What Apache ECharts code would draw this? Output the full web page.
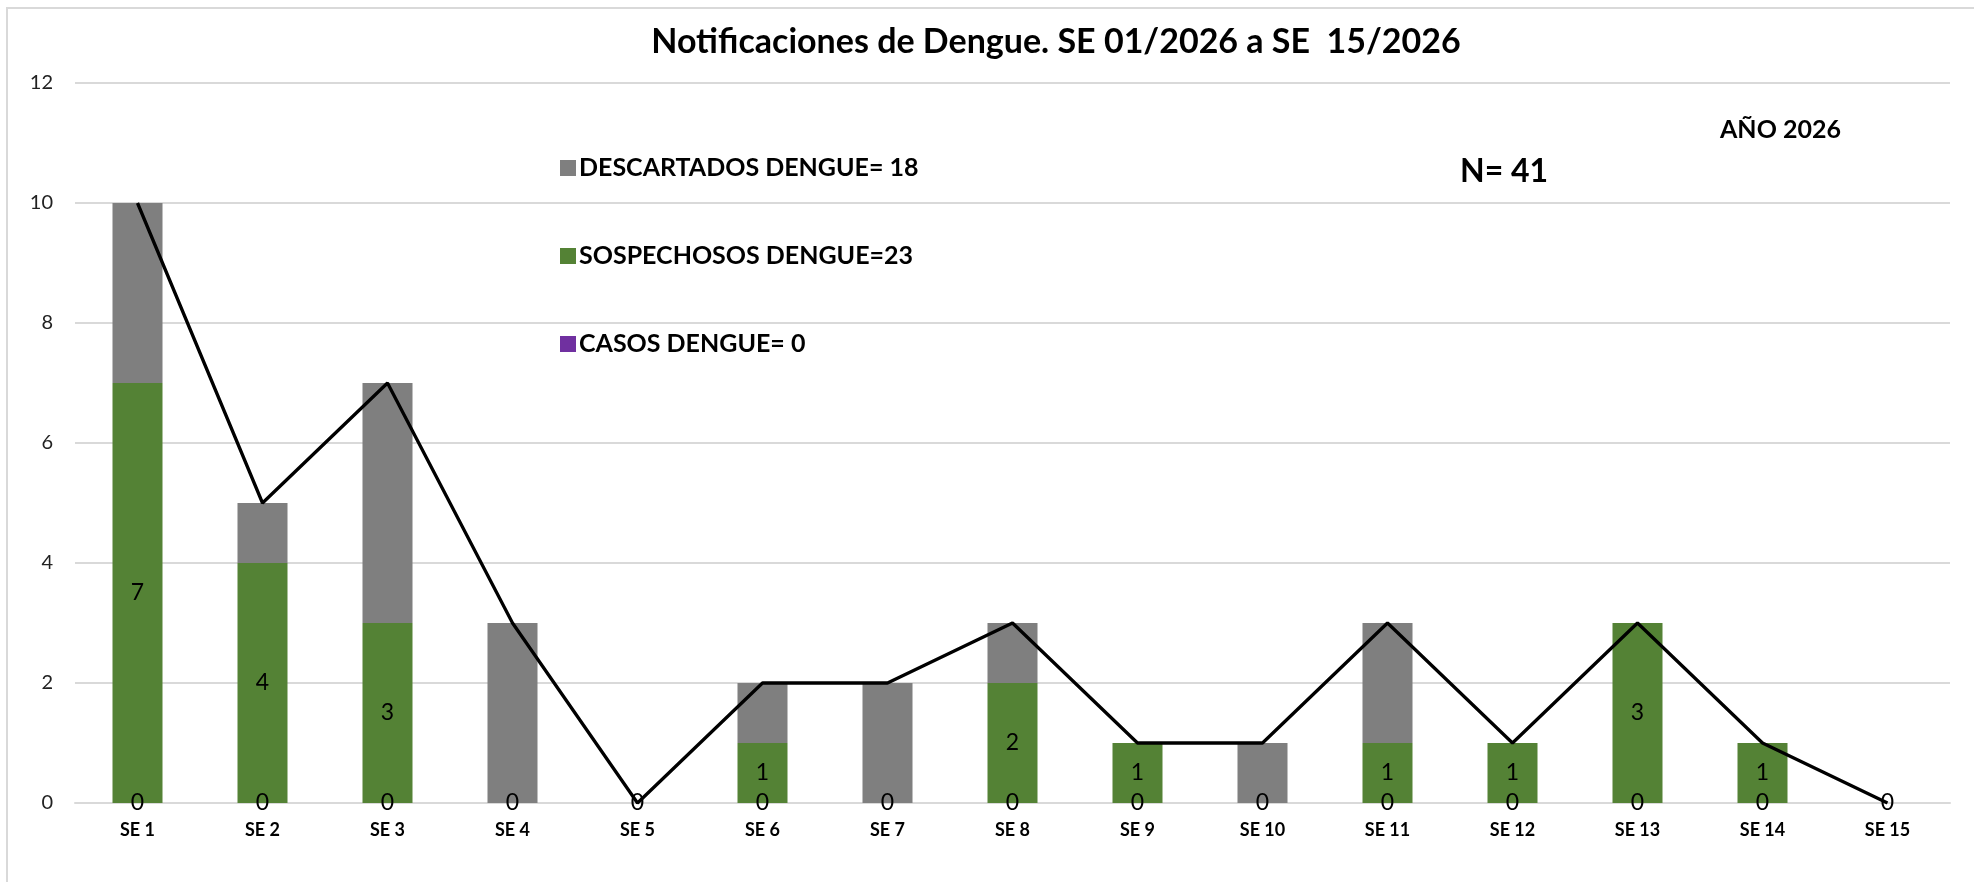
<!DOCTYPE html>
<html>
<head>
<meta charset="utf-8">
<title>Notificaciones de Dengue</title>
<script src="https://cdn.jsdelivr.net/npm/echarts@6/dist/echarts.min.js"></script>
<style>
  html, body { margin: 0; padding: 0; background: #fff; }
  #chart { width: 1974px; height: 882px; }
</style>
</head>
<body>
<div id="chart"></div>
<script>
// semanas epidemiologicas
var semanas = ['SE 1', 'SE 2', 'SE 3', 'SE 4', 'SE 5', 'SE 6', 'SE 7', 'SE 8',
  'SE 9', 'SE 10', 'SE 11', 'SE 12', 'SE 13', 'SE 14', 'SE 15'];
var casos = [0, 0, 0, 0, 0, 0, 0, 0, 0, 0, 0, 0, 0, 0, 0];
var sospechosos = [7, 4, 3, 0, 0, 1, 0, 2, 1, 0, 1, 1, 3, 1, 0];
var descartados = [3, 1, 4, 3, 0, 1, 2, 1, 0, 1, 2, 0, 0, 0, 0];
var totales = [10, 5, 7, 3, 0, 2, 2, 3, 1, 1, 3, 1, 3, 1, 0];
var yTicks = [0, 2, 4, 6, 8, 10, 12];

var fuente = 'Lato, "Open Sans", sans-serif';

var chart = echarts.init(document.getElementById('chart'));

var option = {
  backgroundColor: '#fff',
  animation: false,
  title: {
    text: 'Notificaciones de Dengue. SE 01/2026 a SE  15/2026',
    left: 1051, top: 20, textAlign: 'center',
    textStyle: { fontFamily: fuente, fontWeight: 'bold', fontSize: 34, color: '#000' }
  },
  legend: {
    data: ['DESCARTADOS DENGUE= 18', 'SOSPECHOSOS DENGUE=23', 'CASOS DENGUE= 0'],
    orient: 'vertical',
    left: 555, top: 150,
    itemWidth: 16, itemHeight: 16, itemGap: 62,
    icon: 'rect',
    selectedMode: false,
    textStyle: { fontFamily: fuente, fontWeight: 'bold', fontSize: 25, lineHeight: 26, color: '#000', padding: [0, 0, 0, -2] }
  },
  graphic: [
    { type: 'rect', shape: { x: 7, y: 8, width: 2000, height: 900 },
      style: { fill: 'none', stroke: '#d9d9d9', lineWidth: 2 }, silent: true },
    { type: 'text', left: 1460, top: 156,
      style: { text: 'N= 41', font: 'bold 32px ' + fuente, fill: '#000' } },
    { type: 'text', left: 1720, top: 117,
      style: { text: 'AÑO 2026', font: 'bold 25px ' + fuente, fill: '#000' } }
  ],
  grid: { left: 75, right: 24, top: 83, bottom: 79 },
  xAxis: {
    type: 'category',
    data: semanas,
    axisLine: { lineStyle: { color: '#d9d9d9', width: 2 } },
    axisTick: { show: false },
    axisLabel: { fontFamily: fuente, fontWeight: 'bold', fontSize: 18, color: '#000', margin: 18 }
  },
  yAxis: {
    type: 'value',
    min: yTicks[0], max: yTicks[yTicks.length - 1], interval: 2,
    axisLine: { show: false },
    axisTick: { show: false },
    splitLine: { lineStyle: { color: '#d9d9d9', width: 2 } },
    axisLabel: { fontFamily: fuente, fontSize: 20, color: '#222', margin: 22 }
  },
  series: [
    {
      name: 'CASOS DENGUE= 0', type: 'bar', stack: 'total', barWidth: 50,
      data: casos,
      itemStyle: { color: '#7030a0' },
      label: { show: true, position: 'inside', fontFamily: fuente, fontSize: 23, color: '#000' }
    },
    {
      name: 'SOSPECHOSOS DENGUE=23', type: 'bar', stack: 'total', barWidth: 50,
      data: sospechosos,
      itemStyle: { color: '#548235' },
      label: {
        show: true, position: 'inside', fontFamily: fuente, fontSize: 23, color: '#000',
        formatter: function (p) { return p.value ? String(p.value) : ''; }
      }
    },
    {
      name: 'DESCARTADOS DENGUE= 18', type: 'bar', stack: 'total', barWidth: 50,
      data: descartados,
      itemStyle: { color: '#7f7f7f' }
    },
    {
      name: 'Total', type: 'line',
      data: totales,
      symbol: 'none',
      lineStyle: { color: '#000', width: 3.3 },
      z: 5
    }
  ]
};

chart.setOption(option);
</script>
</body>
</html>
